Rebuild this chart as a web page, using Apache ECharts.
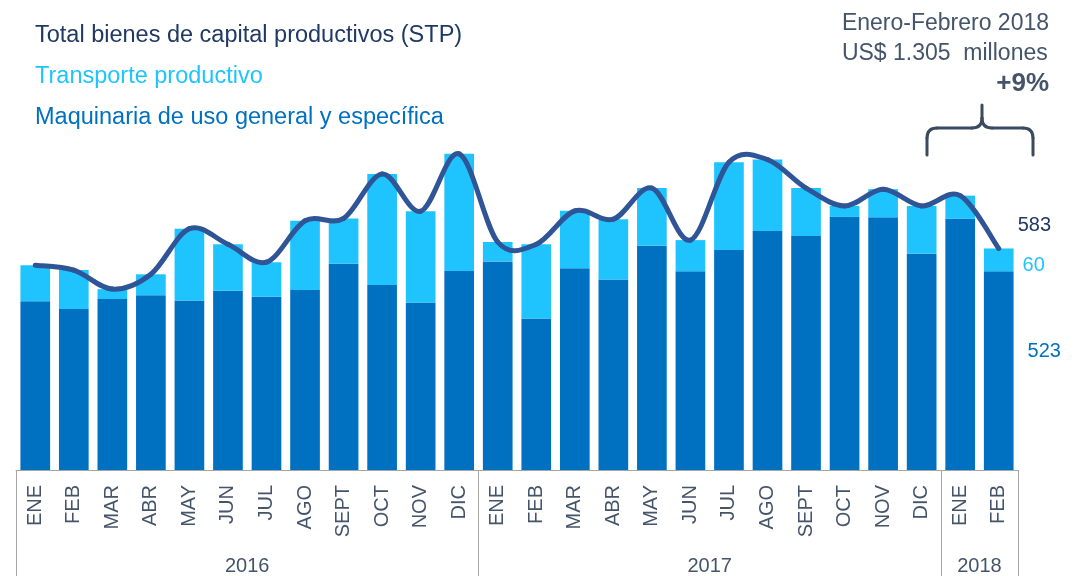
<!DOCTYPE html>
<html>
<head>
<meta charset="utf-8">
<title>Bienes de capital productivos</title>
<script src="https://cdn.jsdelivr.net/npm/echarts@6/dist/echarts.min.js"></script>
<style>
  html, body { margin: 0; padding: 0; background: #fff; }
  #chart { width: 1074px; height: 576px; }
</style>
</head>
<body>
<div id="chart"></div>
<script>
// meses (2016: 12, 2017: 12, 2018: 2)
const meses = [
  'ENE', 'FEB', 'MAR', 'ABR', 'MAY', 'JUN', 'JUL', 'AGO', 'SEPT', 'OCT', 'NOV', 'DIC',
  'ENE', 'FEB', 'MAR', 'ABR', 'MAY', 'JUN', 'JUL', 'AGO', 'SEPT', 'OCT', 'NOV', 'DIC',
  'ENE', 'FEB'
]
const anios = ['2016', '2017', '2018']
const mesesPorAnio = [12, 12, 2]

// US$ millones
const maquinaria = [444, 424, 450, 460, 446, 472, 456, 474, 543, 487, 441, 524,
  549, 399, 531, 501, 590, 523, 579, 629, 616, 666, 665, 569,
  661, 523]
const transporte = [95, 102, 26, 55, 189, 122, 91, 182, 119, 292, 240, 308,
  51, 195, 151, 159, 152, 82, 231, 188, 126, 29, 74, 126,
  61, 60]
const total = [539, 526, 476, 515, 635, 594, 547, 656, 662, 779, 681, 832,
  600, 594, 682, 660, 742, 605, 810, 817, 742, 695, 739, 695,
  722, 583]

const nombres = {
  total: 'Total bienes de capital productivos (STP)',
  transporte: 'Transporte productivo',
  maquinaria: 'Maquinaria de uso general y específica'
}
const colores = {
  total: '#2F5597',
  totalTexto: '#1F3864',
  transporte: '#1FC4FF',
  maquinaria: '#0070C0',
  texto: '#44546A',
  eje: '#A6A6A6',
  llave: '#3B4A5E'
}
const fuente = 'Liberation Sans, Arial, sans-serif'
const ultimo = meses.length - 1

// limites y centros de cada año sobre el eje
const limites = [0]
const centros = []
mesesPorAnio.forEach((n, i) => {
  centros.push(limites[i] + n / 2)
  limites.push(limites[i] + n)
})

function conEtiqueta(valores, etiqueta) {
  return valores.map((v, i) => i === ultimo ? { value: v, label: etiqueta } : v)
}

// linea suavizada tipo Excel: un tramo bezier por mes (Catmull-Rom)
function tramoTotal(params, api) {
  const i = params.dataIndexInside
  const n = params.dataInsideLength
  const punto = (k) => {
    k = Math.max(0, Math.min(n - 1, k))
    return api.coord([api.value(0, k), api.value(1, k)])
  }
  const p1 = punto(i)
  const estilo = { stroke: colores.total, lineWidth: 5, fill: null, lineCap: 'round' }
  if (i === n - 1) {
    return {
      type: 'text',
      x: p1[0] + 19,
      y: p1[1] - 23,
      style: {
        text: String(api.value(1)),
        font: '20px ' + fuente,
        fill: colores.totalTexto,
        align: 'left',
        verticalAlign: 'middle'
      }
    }
  }
  const p0 = punto(i - 1)
  const p2 = punto(i + 1)
  const p3 = punto(i + 2)
  return {
    type: 'bezierCurve',
    shape: {
      x1: p1[0], y1: p1[1],
      x2: p2[0], y2: p2[1],
      cpx1: p1[0] + (p2[0] - p0[0]) / 6,
      cpy1: p1[1] + (p2[1] - p0[1]) / 6,
      cpx2: p2[0] - (p3[0] - p1[0]) / 6,
      cpy2: p2[1] - (p3[1] - p1[1]) / 6
    },
    style: estilo
  }
}

// llave sobre ENE-FEB 2018 (tramos rectos y esquinas)
const trazo = { stroke: colores.llave, lineWidth: 3, fill: null, lineCap: 'round' }
function recta(x1, y1, x2, y2) {
  return { type: 'line', shape: { x1, y1, x2, y2 }, style: trazo }
}
function curva(x1, y1, cpx1, cpy1, x2, y2) {
  return { type: 'bezierCurve', shape: { x1, y1, cpx1, cpy1, x2, y2 }, style: trazo }
}
const llave = [
  recta(927, 155, 927, 138),
  curva(927, 138, 927, 128, 937, 128),
  recta(937, 128, 972, 128),
  curva(972, 128, 982, 128, 982, 118),
  recta(982, 118, 982, 105),
  curva(982, 118, 982, 128, 992, 128),
  recta(992, 128, 1023, 128),
  curva(1023, 128, 1033, 128, 1033, 138),
  recta(1033, 138, 1033, 155)
]

const chart = echarts.init(document.getElementById('chart'))
chart.setOption({
  animation: false,
  textStyle: { fontFamily: fuente },
  grid: {
    left: 16,
    right: 56,
    top: 90,
    bottom: 106,
    containLabel: false,
    outerBoundsMode: 'none'
  },
  legend: {
    orient: 'vertical',
    left: 25,
    top: 19,
    icon: 'none',
    itemWidth: 0,
    itemHeight: 23,
    itemGap: 17,
    selectedMode: false,
    textStyle: { fontSize: 23.5, fontFamily: fuente },
    data: [
      { name: nombres.total, textStyle: { color: colores.totalTexto } },
      { name: nombres.transporte, textStyle: { color: colores.transporte } },
      { name: nombres.maquinaria, textStyle: { color: colores.maquinaria } }
    ]
  },
  xAxis: [{
    type: 'category',
    data: meses,
    position: 'bottom',
    axisLine: { lineStyle: { color: colores.eje, width: 1 } },
    axisTick: {
      interval: 0,
      length: 70,
      lineStyle: { color: colores.eje }
    },
    axisLabel: {
      interval: 0,
      rotate: 90,
      margin: 15,
      fontSize: 20,
      color: colores.texto
    }
  }, {
    type: 'value',
    position: 'bottom',
    min: 0,
    max: meses.length,
    axisLine: { show: false },
    splitLine: { show: false },
    axisTick: {
      show: true,
      customValues: limites,
      length: 110,
      lineStyle: { color: colores.eje }
    },
    axisLabel: {
      customValues: centros,
      margin: 86,
      fontSize: 20,
      color: colores.texto,
      formatter: function(v) {
        return anios[centros.indexOf(v)] || ''
      }
    }
  }],
  yAxis: {
    type: 'value',
    min: 0,
    max: 1000,
    show: false
  },
  series: [{
    name: nombres.maquinaria,
    type: 'bar',
    stack: 'stp',
    barCategoryGap: '23%',
    itemStyle: { color: colores.maquinaria },
    data: conEtiqueta(maquinaria, {
      show: true,
      position: 'right',
      distance: 14,
      offset: [0, -19],
      fontSize: 20,
      color: colores.maquinaria
    })
  }, {
    name: nombres.transporte,
    type: 'bar',
    stack: 'stp',
    itemStyle: { color: colores.transporte },
    data: conEtiqueta(transporte, {
      show: true,
      position: 'right',
      distance: 9,
      offset: [0, 6],
      fontSize: 20,
      color: colores.transporte
    })
  }, {
    name: nombres.total,
    type: 'custom',
    z: 5,
    clip: false,
    itemStyle: { color: colores.total },
    encode: { x: 0, y: 1 },
    renderItem: tramoTotal,
    data: total.map((v, i) => [i, v])
  }],
  graphic: [{
    type: 'text',
    right: 25,
    top: 9,
    style: {
      text: 'Enero-Febrero 2018\nUS$ 1.305  millones',
      font: '23px ' + fuente,
      fill: colores.texto,
      align: 'right',
      lineHeight: 30
    }
  }, {
    type: 'text',
    right: 25,
    top: 71,
    style: {
      text: '+9%',
      font: 'bold 26px ' + fuente,
      fill: colores.texto,
      align: 'right'
    }
  }].concat(llave)
})
</script>
</body>
</html>
